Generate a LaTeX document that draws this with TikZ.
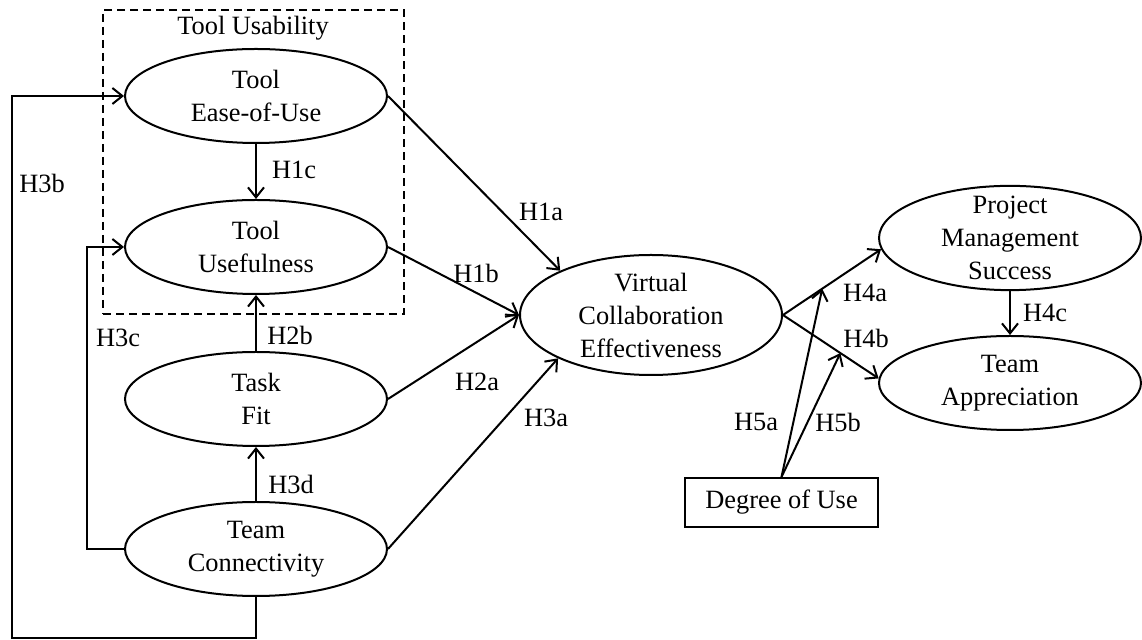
\documentclass[tikz,border=0pt]{standalone}
\usepackage{fontspec}
\setmainfont{Liberation Serif}
\usepackage{tikz}
\usetikzlibrary{positioning,shapes.geometric,arrows.meta,calc}

\begin{document}
\begin{tikzpicture} [x=0.5pt, y=-0.5pt, line width=1pt,
                    font=\fontsize{13.2}{16.5}\selectfont,
                    >={Straight Barb[length=5pt,width=8pt]},
                    soikio/.style={ellipse,draw,align=center,minimum width=131pt,minimum height=47pt,inner sep=1pt},
                    laatikko/.style={rectangle,draw,minimum width=96.5pt,minimum height=24.5pt},
                    hyp/.style={inner sep=0pt}]

\useasboundingbox (0,0) rectangle (1142,640);

\node[draw, dash pattern=on 4pt off 2.5pt, minimum width=150.5pt, minimum height=152pt] (ryhma) at (253.5,162) {};
\node[hyp] (otsikko) at (253,28) {Tool Usability};

\node[soikio] (1) at (256,96) {Tool\\Ease-of-Use};
\node[soikio] (2) at (256,247) {Tool\\Usefulness};
\node[soikio] (3) at (256,399) {Task\\Fit};
\node[soikio] (4) at (256,549) {Team\\Connectivity};
\node[soikio, minimum height=60pt, inner ysep=0pt] (5) at (651,315) {Virtual\\Collaboration\\Effectiveness};
\node[soikio, minimum height=52pt, inner ysep=-2.5pt] (6) at (1010,238) {Project\\Management\\Success};
\node[soikio] (7) at (1010,383) {Team\\Appreciation};
\node[laatikko] (8) at (781.5,502.5) {Degree of Use};

\coordinate (k1) at (12,638);
\coordinate (k2) at (87,549);

\path[->]
    (1) edge (2)
    (3) edge (2)
    (4) edge (3)
    (1.east) edge (5.154)
    (2.east) edge (5.west)
    (3.east) edge (5.west)
    (4.east) edge (5.205)
    (5.east) edge (6.185)
    (5.east) edge (7.178)
    (6) edge (7)
    (8.north) edge ($(5.east)!0.4!(6.185)$)
    (8.north) edge ($(5.east)!0.6!(7.178)$);

\draw[->] (4.south) |- (k1) |- (1.west);
\draw[->] (4.west) -- (k2) |- (2.west);

\node[hyp] (h3b) at (42,183) {H3b};
\node[hyp] (h1c) at (294,170) {H1c};
\node[hyp] (h3c) at (118,338) {H3c};
\node[hyp] (h2b) at (290,335) {H2b};
\node[hyp] (h3d) at (291,484) {H3d};
\node[hyp] (h1a) at (541,212) {H1a};
\node[hyp] (h1b) at (476,273) {H1b};
\node[hyp] (h2a) at (477,382) {H2a};
\node[hyp] (h3a) at (546,418) {H3a};
\node[hyp] (h4a) at (865,293) {H4a};
\node[hyp] (h4b) at (866,338) {H4b};
\node[hyp] (h4c) at (1045,313) {H4c};
\node[hyp] (h5a) at (756,422) {H5a};
\node[hyp] (h5b) at (838,422) {H5b};
\end{tikzpicture}
\end{document}
